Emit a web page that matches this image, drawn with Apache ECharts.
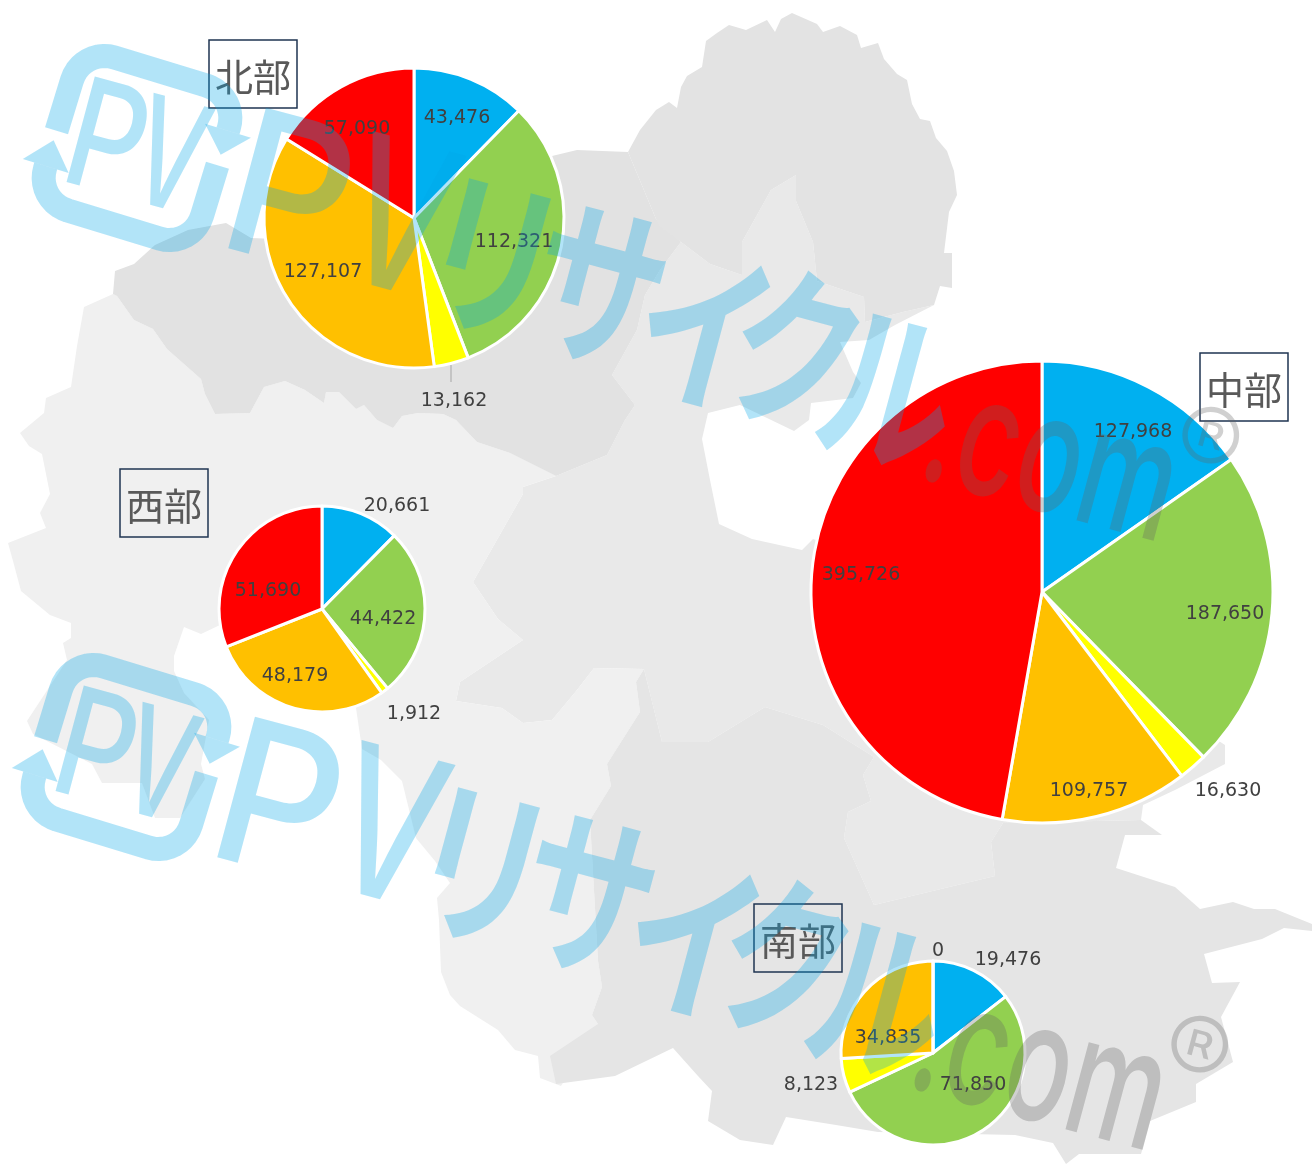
<!DOCTYPE html>
<html>

<head>
    <meta charset="utf-8">
    <script src="https://cdn.jsdelivr.net/npm/echarts@6/dist/echarts.min.js"></script>
    <style>
        html, body { margin: 0; padding: 0; background: #fff; }
    </style>
</head>

<body>
    <div id="main" style="width: 1312px;height:1164px;"></div>
    <script type="text/javascript">
        // slices are the same five in every pie
        var sliceNames = ['区分1', '区分2', '区分3', '区分4', '区分5'];
        var sliceColors = ['#00B0F0', '#92D050', '#FFFF00', '#FFC000', '#FF0000'];

        var northValues = [43476, 112321, 13162, 127107, 57090];
        var middleValues = [127968, 187650, 16630, 109757, 395726];
        var westValues = [20661, 44422, 1912, 48179, 51690];
        var southValues = [19476, 71850, 8123, 34835, 0];

        var regionNames = ['北部', '中部', '西部', '南部'];

        // label centres by hand, the original labels were dragged around
        var labelSpots = {
            '北部': [[457, 116], [514, 240], [454, 399], [323, 270], [357, 127]],
            '中部': [[1133, 430], [1225, 612], [1228, 789], [1089, 789], [861, 573]],
            '西部': [[397, 504], [383, 617], [414, 712], [295, 674], [268, 589]],
            '南部': [[1008, 958], [973, 1083], [811, 1083], [888, 1036], [938, 949]]
        };

        // background map
        var mapWest = [[113, 294], [84, 307], [77, 346], [71, 387], [46, 398], [44, 413], [20, 433], [29, 446], [42, 454], [50, 494], [40, 513], [46, 528], [8, 543], [13, 561], [21, 591], [50, 615], [71, 623], [71, 638], [63, 643], [67, 660], [27, 721], [33, 734], [92, 764], [102, 783], [142, 783], [155, 818], [180, 818], [205, 779], [201, 764], [209, 720], [184, 693], [174, 671], [174, 656], [184, 627], [201, 634], [220, 625], [300, 690], [356, 708], [362, 749], [381, 760], [402, 781], [416, 838], [435, 861], [450, 883], [437, 898], [439, 920], [441, 972], [450, 995], [460, 1006], [498, 1030], [515, 1050], [538, 1056], [540, 1078], [561, 1086], [598, 1024], [592, 1015], [602, 987], [598, 961], [590, 820], [611, 786], [607, 764], [640, 712], [636, 682], [644, 669], [594, 668], [577, 690], [552, 720], [523, 723], [502, 708], [456, 701], [460, 682], [523, 640], [498, 619], [473, 582], [523, 494], [523, 487], [556, 476], [510, 453], [477, 442], [456, 420], [443, 414], [418, 413], [402, 416], [393, 428], [377, 420], [364, 405], [356, 409], [339, 392], [326, 392], [324, 403], [305, 390], [285, 381], [264, 387], [250, 413], [215, 414], [205, 394], [201, 379], [167, 349], [153, 329], [134, 320], [117, 296]];
        var mapCenter = [[556, 476], [607, 455], [625, 420], [635, 405], [612, 375], [637, 330], [645, 295], [660, 270], [681, 242], [710, 264], [742, 275], [742, 242], [771, 190], [796, 175], [796, 201], [813, 242], [817, 281], [864, 297], [865, 322], [903, 312], [934, 305], [895, 325], [869, 340], [840, 342], [853, 372], [861, 383], [853, 398], [811, 403], [809, 420], [794, 431], [740, 405], [708, 413], [702, 439], [710, 480], [719, 524], [752, 539], [802, 550], [813, 539], [1000, 600], [1225, 745], [1225, 764], [1175, 790], [1143, 805], [1141, 820], [1003, 823], [991, 842], [995, 876], [874, 905], [844, 838], [848, 812], [871, 801], [863, 775], [874, 757], [823, 725], [765, 707], [708, 742], [662, 742], [644, 669], [594, 668], [577, 690], [552, 720], [523, 723], [502, 708], [456, 701], [460, 682], [523, 640], [498, 619], [473, 582], [523, 494], [523, 487]];
        var mapNorth = [[113, 294], [115, 271], [134, 264], [155, 245], [188, 230], [226, 223], [251, 238], [300, 240], [500, 170], [552, 156], [577, 150], [628, 152], [656, 219], [681, 242], [660, 270], [645, 295], [637, 330], [612, 375], [635, 405], [625, 420], [607, 455], [556, 476], [510, 453], [477, 442], [456, 420], [443, 414], [418, 413], [402, 416], [393, 428], [377, 420], [364, 405], [356, 409], [339, 392], [326, 392], [324, 403], [305, 390], [285, 381], [264, 387], [250, 413], [215, 414], [205, 394], [201, 379], [167, 349], [153, 329], [134, 320], [117, 296]];
        var mapNorthEast = [[628, 152], [640, 130], [656, 110], [669, 102], [677, 108], [681, 87], [687, 76], [702, 67], [706, 41], [717, 33], [729, 25], [746, 30], [767, 20], [775, 32], [781, 19], [792, 13], [817, 24], [823, 32], [840, 26], [857, 35], [861, 48], [878, 43], [884, 59], [897, 74], [907, 80], [912, 104], [920, 119], [930, 121], [936, 138], [947, 151], [954, 171], [957, 195], [949, 212], [944, 253], [952, 253], [952, 288], [940, 286], [934, 305], [903, 312], [865, 322], [864, 297], [817, 281], [813, 242], [796, 201], [796, 175], [771, 190], [742, 242], [742, 275], [710, 264], [681, 242], [660, 227], [656, 219]];
        var mapSouth = [[662, 742], [708, 742], [765, 707], [823, 725], [874, 757], [863, 775], [871, 801], [848, 812], [844, 838], [874, 905], [995, 876], [991, 842], [1003, 823], [1141, 820], [1162, 835], [1125, 835], [1116, 868], [1150, 879], [1175, 887], [1200, 909], [1233, 902], [1254, 909], [1275, 909], [1312, 924], [1312, 931], [1284, 928], [1262, 939], [1204, 954], [1212, 983], [1240, 982], [1221, 1017], [1233, 1062], [1196, 1084], [1196, 1102], [1150, 1121], [1141, 1154], [1079, 1154], [1066, 1164], [1053, 1143], [1015, 1135], [878, 1132], [836, 1125], [786, 1117], [773, 1145], [740, 1140], [708, 1121], [712, 1091], [698, 1076], [673, 1048], [615, 1076], [556, 1084], [550, 1056], [598, 1024], [592, 1015], [602, 987], [598, 961], [590, 820], [611, 786], [607, 764], [640, 712], [636, 682], [644, 669]];

        var myChart = echarts.init(document.getElementById('main'));

        var WM_BLUE = 'rgba(0,165,232,0.3)';
        var WM_GREY = 'rgba(100,100,100,0.3)';
        var WM_Z = 100;
        var WM_TILT = -15 * Math.PI / 180;
        var LATIN = 'Inter, "Noto Sans", sans-serif';
        var KANA = '"Noto Sans CJK JP", sans-serif';

        function formatNumber(v) {
            return v.toLocaleString('en-US');
        }

        function makePie(name, values, cx, cy, r) {
            return {
                name: name,
                type: 'pie',
                center: [cx, cy],
                radius: [0, r],
                startAngle: 90,
                clockwise: true,
                silent: true,
                animation: false,
                avoidLabelOverlap: false,
                itemStyle: { borderColor: '#fff', borderWidth: 3 },
                label: {
                    show: true,
                    position: 'inside',
                    color: '#404040',
                    fontFamily: '"DejaVu Sans", sans-serif',
                    fontSize: 19,
                    formatter: function (p) { return formatNumber(p.value); }
                },
                labelLine: { show: false },
                labelLayout: function (p) {
                    var spot = labelSpots[name][p.dataIndex];
                    return { x: spot[0], y: spot[1] + 2, align: 'center', verticalAlign: 'middle' };
                },
                data: values.map(function (v, i) {
                    return { name: sliceNames[i], value: v, itemStyle: { color: sliceColors[i] } };
                })
            };
        }

        function makeTitle(text, left, top) {
            return {
                text: text,
                left: left,
                top: top,
                padding: [18, 6, 12, 6],
                borderColor: '#1F3552',
                borderWidth: 1.5,
                textStyle: {
                    color: '#595959',
                    fontFamily: KANA,
                    fontWeight: 'normal',
                    fontSize: 38,
                    lineHeight: 38
                }
            };
        }

        function mapShape(points, color) {
            return {
                type: 'polygon',
                silent: true,
                z: 0,
                shape: { points: points },
                style: { fill: color }
            };
        }

        // one watermark letter, turned with the rest of the stamp
        function glyph(text, x, y, size, font, color, weight, scaleX) {
            return {
                type: 'text',
                silent: true,
                z: WM_Z,
                x: x,
                y: y,
                rotation: WM_TILT,
                scaleX: scaleX || 1,
                style: {
                    text: text,
                    fill: color,
                    font: weight + ' ' + size + 'px ' + font,
                    align: 'center',
                    verticalAlign: 'middle'
                }
            };
        }

        // rounded logo line, local coordinates around the logo centre
        function cornerPoints(cx, cy, r, fromDeg, toDeg) {
            var pts = [];
            var n = 10;
            for (var i = 0; i <= n; i++) {
                var a = (fromDeg + (toDeg - fromDeg) * i / n) * Math.PI / 180;
                pts.push([cx + r * Math.cos(a), cy + r * Math.sin(a)]);
            }
            return pts;
        }

        function makeLogo(x, y) {
            var w = 82, h = 80, r = 34;
            var topLine = [[-w, 7]]
                .concat(cornerPoints(-w + r, -h + r, r, 180, 270))
                .concat(cornerPoints(w - r, -h + r, r, 270, 360))
                .concat([[w, -43]]);
            var bottomLine = [[w, -7]]
                .concat(cornerPoints(w - r, h - r, r, 0, 90))
                .concat(cornerPoints(-w + r, h - r, r, 90, 180))
                .concat([[-w, 44]]);
            function line(points) {
                return {
                    type: 'polyline',
                    silent: true,
                    z: WM_Z,
                    shape: { points: points },
                    style: { stroke: WM_BLUE, lineWidth: 24, fill: null, lineCap: 'butt', lineJoin: 'round' }
                };
            }
            function head(points) {
                return {
                    type: 'polygon',
                    silent: true,
                    z: WM_Z,
                    shape: { points: points },
                    style: { fill: WM_BLUE }
                };
            }
            return {
                type: 'group',
                x: x,
                y: y,
                rotation: -17 * Math.PI / 180,
                children: [
                    line(topLine),
                    line(bottomLine),
                    head([[w - 24, -43], [w + 24, -43], [w, -18]]),
                    head([[-w - 24, 44], [-w + 24, 44], [-w, 17]])
                ]
            };
        }

        function makeWatermark(dx, dy) {
            return [
                makeLogo(137 + dx, 148 + dy),
                glyph('P', 106 + dx, 146 + dy, 150, LATIN, WM_BLUE, 500, 0.8),
                glyph('V', 168 + dx, 163 + dy, 150, LATIN, WM_BLUE, 500, 0.65),
                glyph('P', 288 + dx, 202 + dy, 200, LATIN, WM_BLUE, 500, 0.95),
                glyph('V', 397 + dx, 228 + dy, 205, LATIN, WM_BLUE, 500, 0.72),
                glyph('リ', 492 + dx, 256 + dy, 178, KANA, WM_BLUE, 700, 0.78),
                glyph('サ', 600 + dx, 285 + dy, 178, KANA, WM_BLUE, 700, 0.75),
                glyph('イ', 705 + dx, 330 + dy, 178, KANA, WM_BLUE, 700, 0.75),
                glyph('ク', 797 + dx, 350 + dy, 178, KANA, WM_BLUE, 700, 0.75),
                glyph('ル', 890 + dx, 389 + dy, 178, KANA, WM_BLUE, 700, 0.75),
                glyph('.com', 1051 + dx, 462 + dy, 165, LATIN, WM_GREY, 500, 0.65),
                glyph('®', 1207 + dx, 450 + dy, 100, LATIN, WM_GREY, 300, 1)
            ];
        }

        var option = {
            animation: false,
            backgroundColor: '#fff',
            title: [
                makeTitle(regionNames[0], 209, 40),
                makeTitle(regionNames[1], 1200, 353),
                makeTitle(regionNames[2], 120, 469),
                makeTitle(regionNames[3], 754, 904)
            ],
            graphic: {
                elements: [
                    mapShape(mapCenter, '#E9E9E9'),
                    mapShape(mapWest, '#F0F0F0'),
                    mapShape(mapSouth, '#E5E5E5'),
                    mapShape(mapNorth, '#E2E2E2'),
                    mapShape(mapNorthEast, '#E3E3E3'),
                    {
                        // leader of the 13,162 label
                        type: 'line',
                        silent: true,
                        z: 3,
                        shape: { x1: 451, y1: 365, x2: 451, y2: 382 },
                        style: { stroke: '#A6A6A6', lineWidth: 1 }
                    }
                ].concat(makeWatermark(0, 0), makeWatermark(-11, 609))
            },
            series: [
                makePie(regionNames[0], northValues, 414, 218, 150),
                makePie(regionNames[1], middleValues, 1042, 592, 231),
                makePie(regionNames[2], westValues, 322, 609, 103),
                makePie(regionNames[3], southValues, 933, 1053, 92)
            ]
        };
        myChart.setOption(option);
    </script>
</body>

</html>
